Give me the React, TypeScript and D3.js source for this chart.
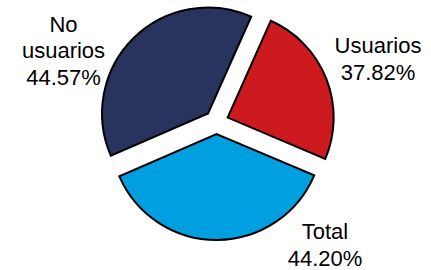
import React, { useEffect, useRef } from 'react';
import * as d3 from 'd3';

const categories = ['Usuarios', 'Total', 'No usuarios'];
const percentLabels = ['37.82%', '44.20%', '44.57%'];
// share of the circle each slice takes in the drawing (%)
const sliceShares = [24.7, 37.1, 38.2];
const colors = ['#CC1A1F', '#00A0E0', '#28345E'];

const width = 431;
const height = 270;

const App: React.FC = () => {
  const svgRef = useRef<SVGSVGElement | null>(null);

  useEffect(() => {
    const cx = 216.5;
    const cy = 122;
    const radius = 106;
    const explode = 12;
    const start = (24 * Math.PI) / 180;

    const svg = d3.select(svgRef.current);
    svg.selectAll('*').remove();

    const pie = d3
      .pie<number>()
      .sort(null)
      .value((d) => d)
      .startAngle(start)
      .endAngle(start + 2 * Math.PI);

    const arc = d3.arc<d3.PieArcDatum<number>>().innerRadius(0).outerRadius(radius);

    const arcs = pie(sliceShares);

    const g = svg.append('g').attr('transform', `translate(${cx},${cy})`);

    g.selectAll('path')
      .data(arcs)
      .enter()
      .append('path')
      .attr('d', (d) => arc(d) as string)
      .attr('transform', (d) => {
        const mid = (d.startAngle + d.endAngle) / 2;
        return `translate(${explode * Math.sin(mid)},${-explode * Math.cos(mid)})`;
      })
      .attr('fill', (d, i) => colors[i])
      .attr('stroke', '#000')
      .attr('stroke-width', 2)
      .attr('stroke-linejoin', 'miter');

    // label anchors (centre x, first baseline y)
    const labelPos: [number, number][] = [
      [378, 53],
      [325, 239],
      [63.5, 31.5],
    ];
    const lineHeight = 26.8;

    categories.forEach((name, i) => {
      const lines = i === 2 ? ['No', 'usuarios'] : [name];
      lines.push(percentLabels[i]);
      const text = svg
        .append('text')
        .attr('text-anchor', 'middle')
        .attr('font-family', '"Liberation Sans", Arial, sans-serif')
        .attr('font-size', 22)
        .attr('fill', '#000');
      lines.forEach((t, j) => {
        text
          .append('tspan')
          .attr('x', labelPos[i][0])
          .attr('y', labelPos[i][1] + j * lineHeight)
          .text(t);
      });
    });
  }, []);

  return (
    <svg
      ref={svgRef}
      width={width}
      height={height}
      style={{ position: 'absolute', left: 0, top: 0, background: '#fff' }}
    />
  );
};

export default App;
